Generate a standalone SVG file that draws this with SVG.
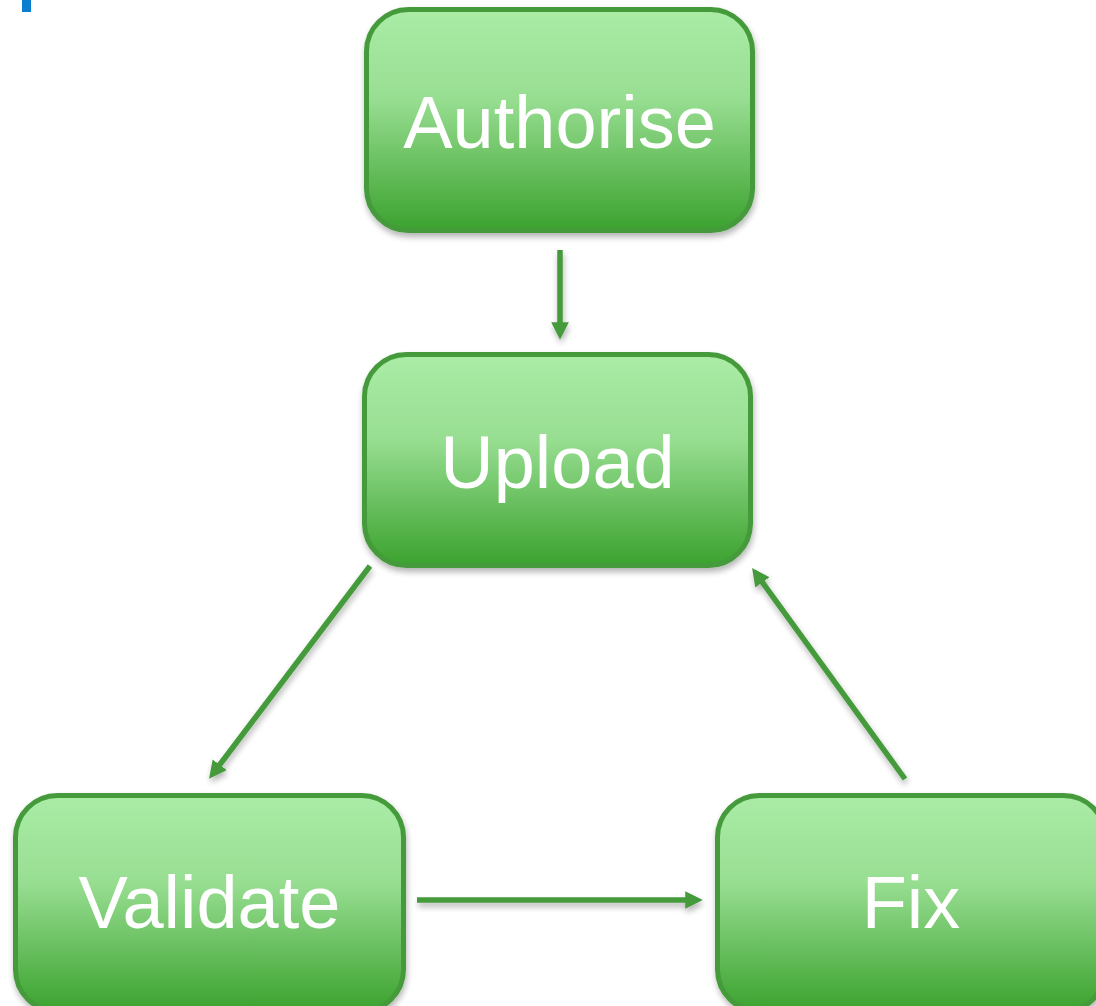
<svg xmlns="http://www.w3.org/2000/svg" width="1096" height="1006" viewBox="0 0 1096 1006">
<defs>
<linearGradient id="g" x1="0" y1="0" x2="0" y2="1">
<stop offset="0" stop-color="#aaeca6"/>
<stop offset="0.4" stop-color="#98de92"/>
<stop offset="1" stop-color="#3ba22e"/>
</linearGradient>
<filter id="sh" x="-10%" y="-10%" width="125%" height="130%">
<feGaussianBlur in="SourceAlpha" stdDeviation="3"/>
<feOffset dx="1" dy="4" result="b"/>
<feComponentTransfer><feFuncA type="linear" slope="0.3"/></feComponentTransfer>
<feMerge><feMergeNode/><feMergeNode in="SourceGraphic"/></feMerge>
</filter>
<marker id="ah" markerWidth="4" markerHeight="4" refX="0.5" refY="1.6" orient="auto" markerUnits="strokeWidth">
<path d="M0,0 L3.2,1.6 L0,3.2 z" fill="#459a3a"/>
</marker>
<style>
.box{fill:url(#g);stroke:#459a3a;stroke-width:5}
.lbl{font-family:"Liberation Sans",Arial,sans-serif;font-size:74px;fill:#ffffff;text-anchor:middle}
.con{stroke:#459a3a;stroke-width:5.5;fill:none;marker-end:url(#ah)}
</style>
</defs>
<rect width="1096" height="1006" fill="#ffffff"/>
<rect x="22" y="0" width="9" height="12" fill="#0a7fcf"/>
<g id="connectors" filter="url(#sh)">
<line class="con" x1="560" y1="250" x2="560" y2="325"/>
<line class="con" x1="370" y1="566" x2="218" y2="767"/>
<line class="con" x1="905" y1="779" x2="760.8" y2="580.1"/>
<line class="con" x1="417" y1="900" x2="688" y2="900"/>
</g>
<g id="authorise" filter="url(#sh)">
<rect class="box" x="366.5" y="9.5" width="386" height="221" rx="42"/>
<text class="lbl" x="559.5" y="148">Authorise</text>
</g>
<g id="upload" filter="url(#sh)">
<rect class="box" x="364.5" y="354.5" width="386" height="211" rx="42"/>
<text class="lbl" x="557.5" y="488">Upload</text>
</g>
<g id="validate" filter="url(#sh)">
<rect class="box" x="15.5" y="795.5" width="388" height="216" rx="42"/>
<text class="lbl" x="209.5" y="928">Validate</text>
</g>
<g id="fix" filter="url(#sh)">
<rect class="box" x="717.5" y="795.5" width="388" height="216" rx="42"/>
<text class="lbl" x="911" y="928">Fix</text>
</g>
</svg>
